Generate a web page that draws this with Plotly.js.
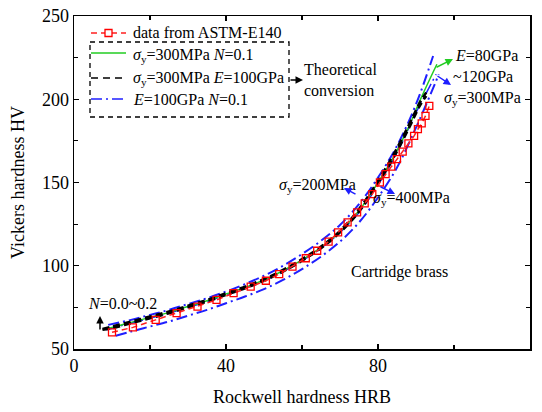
<!DOCTYPE html>
<html><head><meta charset="utf-8">
<script src="https://cdn.plot.ly/plotly-3.0.1.min.js"></script>
<style>html,body{margin:0;padding:0;background:#fff}#chart{width:542px;height:412px}</style>
</head><body><div id="chart"></div>
<script>
// ASTM-E140 data (cartridge brass)
const hrbData = [10, 15.5, 21.5, 27, 32.5, 37.5, 42, 46.5, 50.5, 54, 57.5, 61, 64, 67, 69.5, 72, 74.5, 76.5, 78.5, 80.5, 82, 83.5, 85, 86.5, 88, 89.5, 90.5, 91.5, 92.5, 93.5];
const hvData  = [60, 63, 67.5, 71.5, 75.5, 79.5, 83.5, 87.5, 91, 95, 99.5, 104.5, 109, 114.5, 120, 126, 132, 137.5, 143, 150, 155, 159.5, 164, 168.5, 173.5, 178, 182, 185.5, 190, 196];
// theoretical: sigma_y=300MPa N=0.1 (green)
const hrbGreen = [8, 10, 15, 20, 25, 30, 35, 40, 45, 50, 55, 60, 65, 70, 75, 80, 84, 88, 91, 93, 95.5];
const hvGreen  = [62, 63, 66, 69, 72, 75.5, 79, 83, 87, 91.5, 97, 103.5, 111, 120.5, 133, 150, 165, 183, 199, 209, 221];
// theoretical: sigma_y=300MPa E=100GPa (black), N=0.0 and N=0.2
const hrbBlack  = [7.5, 10, 15, 20, 25, 30, 35, 40, 45, 50, 55, 60, 65, 70, 75, 80, 84, 88, 91, 92.7];
const hvBlackA  = [62, 63.5, 66.5, 69.5, 72.5, 76, 79.5, 83.5, 87.5, 92, 97.5, 104, 111.5, 121, 134, 151, 166.5, 184, 198, 204];
const hvBlackB  = [61.5, 62.5, 65.5, 68.5, 71.5, 75, 78.5, 82.5, 86.5, 91, 96.5, 103, 110.5, 120, 132.5, 149.5, 164.5, 182, 196, 202];
// theoretical: E=100GPa N=0.1 (blue), sigma_y=200, 300, 400MPa
const hrbBlueMid = [8.5, 10, 15, 20, 25, 30, 35, 40, 45, 50, 55, 60, 65, 70, 75, 80, 85, 90, 93, 95.3];
const hvBlueMid  = [61.5, 62.5, 65.5, 68.5, 71.5, 75, 78.5, 82.5, 86.5, 91, 96.5, 103, 110.5, 120, 132, 148.5, 168, 192, 205, 215];
const hrbBlueHi = [9, 15, 20, 25, 30, 35, 40, 45, 50, 55, 60, 65, 70, 75, 80, 85, 90, 94.5];
const hvBlueHi  = [64.5, 67.5, 70.5, 73.5, 77, 80.5, 84.5, 89, 94, 100, 107, 115, 124.5, 137, 153, 172, 197, 226];
const hrbBlueLo = [11, 15, 20, 25, 30, 35, 40, 45, 50, 55, 60, 65, 70, 75, 80, 85, 90, 94, 96];
const hvBlueLo  = [58, 60.5, 63.5, 66.5, 70, 73.5, 77.5, 81.5, 86, 91.5, 98, 105.5, 114.5, 126, 141, 159, 183, 204, 215];
const xTicks = [0, 40, 80, 120];
const yTicks = [50, 100, 150, 200, 250];

const FONT = '"Liberation Serif"';
const blueDash = '11px,4px,2px,4px';
const traces = [
  {x: hrbBlueHi, y: hvBlueHi, mode: 'lines', line: {color: '#1f1fff', width: 2, dash: blueDash, shape: 'spline'}},
  {x: hrbBlueLo, y: hvBlueLo, mode: 'lines', line: {color: '#1f1fff', width: 2, dash: blueDash, shape: 'spline'}},
  {x: hrbBlueMid, y: hvBlueMid, mode: 'lines', line: {color: '#1f1fff', width: 1.5, dash: blueDash, shape: 'spline'}},
  {x: hrbGreen, y: hvGreen, mode: 'lines', line: {color: '#22cc22', width: 1.5, shape: 'spline'}},
  {x: hrbBlack, y: hvBlackA, mode: 'lines', line: {color: '#000', width: 2.5, dash: '7px,4px', shape: 'spline'}},
  {x: hrbBlack, y: hvBlackB, mode: 'lines', line: {color: '#000', width: 2.5, dash: '7px,4px', shape: 'spline'}},
  {x: hrbData, y: hvData, mode: 'lines+markers', line: {color: '#ff2020', width: 1.5, dash: '6px,4px'},
   marker: {symbol: 'square-open', size: 7, color: '#ff0000', line: {width: 1.3}}}
];

// pixel helpers for annotations placed in paper coordinates (plot: x 74..530, y 16..349)
const px = v => (v - 74) / 456;
const py = v => (349 - v) / 333;

const ann = [];
const txt = (x, y, text, anchor, color) => ann.push({xref: 'paper', yref: 'paper', x: px(x), y: py(y), text: text,
  showarrow: false, xanchor: anchor || 'left', yanchor: 'middle', align: 'left', font: {family: FONT, size: 16, color: color || '#000'}});
const arr = (tx, ty, hx, hy, color) => ann.push({xref: 'paper', yref: 'paper', x: px(hx), y: py(hy), ax: tx - hx, ay: ty - hy,
  text: '', showarrow: true, arrowhead: 2, arrowsize: 1, arrowwidth: 1.5, arrowcolor: color});

// legend texts
txt(131, 33, 'data from ASTM-E140');
txt(131, 55, '<i>σ</i><sub>y</sub>=300MPa <i>N</i>=0.1');
txt(131, 79, '<i>σ</i><sub>y</sub>=300MPa <i>E</i>=100GPa');
txt(131, 99, '<i>E</i>=100GPa <i>N</i>=0.1');
// other labels
txt(302, 80, 'Theoretical<br>conversion');
txt(453, 55, '<i>E</i>=80GPa');
txt(451, 76, '~120GPa');
txt(442, 98, '<i>σ</i><sub>y</sub>=300MPa');
txt(277, 185, '<i>σ</i><sub>y</sub>=200MPa');
txt(371, 199, '<i>σ</i><sub>y</sub>=400MPa');
txt(349, 272, 'Cartridge brass');
txt(86, 303, '<i>N</i>=0.0~0.2');
// arrows
arr(289, 80, 303, 80, '#000');
arr(435, 68, 453, 59, '#22cc22');
arr(436, 75, 451, 85, '#1f1fff');
arr(357, 195, 344, 188, '#1f1fff');
arr(379, 186, 395, 194, '#1f1fff');
arr(100, 331, 100, 316, '#000');

const shapes = [
  // dashed box around theoretical legend entries
  {type: 'rect', xref: 'paper', yref: 'paper', x0: px(90), x1: px(289), y0: py(42), y1: py(117),
   line: {color: '#000', width: 1.3, dash: '5px,4px'}},
  // legend samples
  {type: 'line', xref: 'paper', yref: 'paper', x0: px(91), x1: px(126), y0: py(33), y1: py(33), line: {color: '#ff2020', width: 1.5, dash: '6px,4px'}},
  {type: 'rect', xref: 'paper', yref: 'paper', x0: px(105), x1: px(112), y0: py(29.5), y1: py(36.5), line: {color: '#ff0000', width: 1.3}, fillcolor: '#fff'},
  {type: 'line', xref: 'paper', yref: 'paper', x0: px(91), x1: px(126), y0: py(53), y1: py(53), line: {color: '#22cc22', width: 1.5}},
  {type: 'line', xref: 'paper', yref: 'paper', x0: px(91), x1: px(126), y0: py(78), y1: py(78), line: {color: '#000', width: 1.5, dash: '7px,5px'}},
  {type: 'line', xref: 'paper', yref: 'paper', x0: px(91), x1: px(126), y0: py(99), y1: py(99), line: {color: '#1f1fff', width: 1.5, dash: blueDash}}
];

const axisCommon = {showline: true, linecolor: '#000', linewidth: 1.5, mirror: 'ticks', ticks: 'inside', ticklen: 5,
  tickwidth: 1.2, tickcolor: '#000', showgrid: false, zeroline: false, tickfont: {family: FONT, size: 18, color: '#000'}};
const layout = {
  width: 542, height: 412, margin: {l: 74, r: 12, t: 16, b: 63},
  paper_bgcolor: '#fff', plot_bgcolor: '#fff', showlegend: false,
  font: {family: FONT},
  xaxis: Object.assign({}, axisCommon, {range: [0, 120], tickvals: xTicks, ticktext: xTicks.map(String),
    minor: {dtick: 20, ticks: 'inside', ticklen: 4, tickcolor: '#000', tickwidth: 1.2},
    title: {text: 'Rockwell hardness HRB', font: {family: FONT, size: 18, color: '#000'}, standoff: 15}}),
  yaxis: Object.assign({}, axisCommon, {range: [50, 250], tickvals: yTicks, ticktext: yTicks.map(String),
    minor: {dtick: 25, ticks: 'inside', ticklen: 4, tickcolor: '#000', tickwidth: 1.2},
    title: {text: 'Vickers hardness HV', font: {family: FONT, size: 18, color: '#000'}, standoff: 12}}),
  annotations: ann, shapes: shapes
};
Plotly.newPlot('chart', traces, layout, {displayModeBar: false, staticPlot: true});
</script></body></html>
